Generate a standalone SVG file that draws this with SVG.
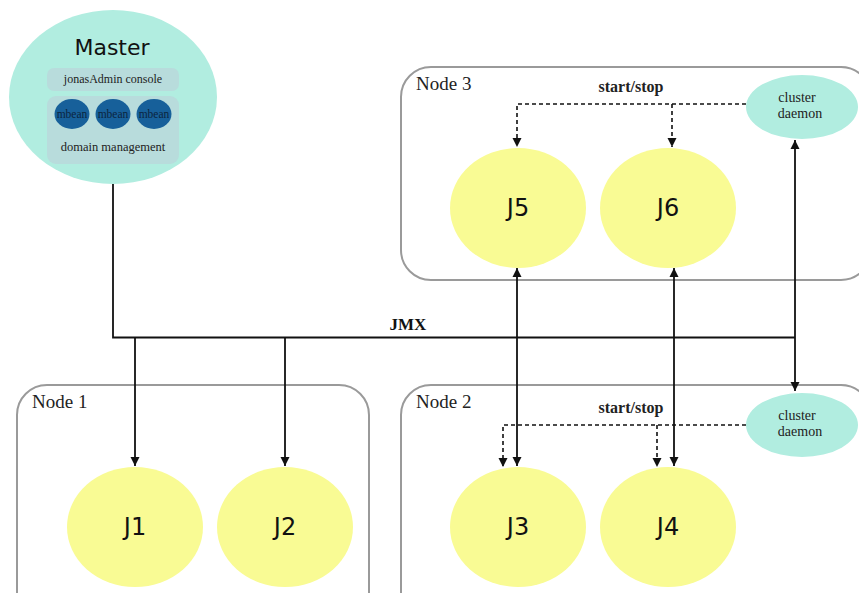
<svg xmlns="http://www.w3.org/2000/svg" width="859" height="593" viewBox="0 0 859 593">
<defs>
<style>
.box{fill:#fff;stroke:#9a9a9a;stroke-width:2}
.jvm{fill:#f9fb94}
.teal{fill:#b1ede0}
.inner{fill:#b8dcdc}
.mb{fill:#17609a}
.sans{font-family:"DejaVu Sans",sans-serif;fill:#111}
.serif{font-family:"Liberation Serif","DejaVu Serif",serif;fill:#222}
.ln{stroke:#111;stroke-width:1.8;fill:none}
.dash{stroke:#111;stroke-width:1.6;fill:none;stroke-dasharray:4 3}
</style>
<marker id="ah" viewBox="0 0 10 10" refX="10" refY="5" markerWidth="9" markerHeight="10" markerUnits="userSpaceOnUse" orient="auto">
<path d="M0,0 L10,5 L0,10 z" fill="#111"/>
</marker>
<marker id="ahs" viewBox="0 0 10 10" refX="10" refY="5" markerWidth="9" markerHeight="10" markerUnits="userSpaceOnUse" orient="auto-start-reverse">
<path d="M0,0 L10,5 L0,10 z" fill="#111"/>
</marker>
</defs>
<rect width="859" height="593" fill="#fff"/>

<g id="node1">
<rect class="box" x="17" y="385" width="352" height="240" rx="30"/>
<text class="serif" x="32" y="408" font-size="19">Node 1</text>
</g>
<g id="node2">
<rect class="box" x="401" y="385" width="470" height="240" rx="30"/>
<text class="serif" x="416" y="408" font-size="19">Node 2</text>
<text class="serif" x="631" y="413" font-size="16" font-weight="bold" text-anchor="middle">start/stop</text>
</g>
<g id="node3">
<rect class="box" x="401" y="67" width="470" height="213" rx="30"/>
<text class="serif" x="416" y="90" font-size="19">Node 3</text>
<text class="serif" x="631" y="92" font-size="16" font-weight="bold" text-anchor="middle">start/stop</text>
</g>

<g id="master">
<ellipse class="teal" cx="113" cy="97" rx="104" ry="87"/>
<text class="sans" x="112" y="55" font-size="22" text-anchor="middle">Master</text>
<rect class="inner" x="47" y="68" width="132" height="23" rx="7"/>
<text class="serif" x="113" y="83" font-size="12" text-anchor="middle">jonasAdmin console</text>
<rect class="inner" x="47" y="96" width="132" height="68" rx="9"/>
<ellipse class="mb" cx="72" cy="114" rx="17.5" ry="15"/>
<ellipse class="mb" cx="113" cy="114" rx="17.5" ry="15"/>
<ellipse class="mb" cx="154" cy="114" rx="17.5" ry="15"/>
<text class="serif" x="72" y="118" font-size="11.5" text-anchor="middle" style="fill:#0b2540">mbean</text>
<text class="serif" x="113" y="118" font-size="11.5" text-anchor="middle" style="fill:#0b2540">mbean</text>
<text class="serif" x="154" y="118" font-size="11.5" text-anchor="middle" style="fill:#0b2540">mbean</text>
<text class="serif" x="113" y="151" font-size="12.5" text-anchor="middle">domain management</text>
</g>

<g id="j1"><ellipse class="jvm" cx="135" cy="527" rx="68" ry="60"/><text class="sans" x="135" y="535" font-size="24" text-anchor="middle">J1</text></g>
<g id="j2"><ellipse class="jvm" cx="285" cy="527" rx="68" ry="60"/><text class="sans" x="285" y="535" font-size="24" text-anchor="middle">J2</text></g>
<g id="j3"><ellipse class="jvm" cx="518" cy="527" rx="68" ry="60"/><text class="sans" x="518" y="535" font-size="24" text-anchor="middle">J3</text></g>
<g id="j4"><ellipse class="jvm" cx="668" cy="527" rx="68" ry="60"/><text class="sans" x="668" y="535" font-size="24" text-anchor="middle">J4</text></g>
<g id="j5"><ellipse class="jvm" cx="518" cy="208" rx="68" ry="60"/><text class="sans" x="518" y="216" font-size="24" text-anchor="middle">J5</text></g>
<g id="j6"><ellipse class="jvm" cx="668" cy="208" rx="68" ry="60"/><text class="sans" x="668" y="216" font-size="24" text-anchor="middle">J6</text></g>

<g id="daemon3">
<ellipse class="teal" cx="802" cy="107" rx="56" ry="32"/>
<text class="serif" x="797" y="102" font-size="14" text-anchor="middle">cluster</text>
<text class="serif" x="800" y="118" font-size="14" text-anchor="middle">daemon</text>
</g>
<g id="daemon2">
<ellipse class="teal" cx="802" cy="425" rx="56" ry="32"/>
<text class="serif" x="797" y="420" font-size="14" text-anchor="middle">cluster</text>
<text class="serif" x="800" y="436" font-size="14" text-anchor="middle">daemon</text>
</g>

<g id="connectors">
<path class="ln" d="M113,184 V337.5 H795"/>
<text class="serif" x="408" y="330" font-size="17" font-weight="bold" text-anchor="middle" style="fill:#111">JMX</text>
<path class="ln" d="M135,337.5 V466" marker-end="url(#ah)"/>
<path class="ln" d="M285,337.5 V466" marker-end="url(#ah)"/>
<path class="ln" d="M517,268 V466" marker-start="url(#ahs)" marker-end="url(#ah)"/>
<path class="ln" d="M674,268 V466" marker-start="url(#ahs)" marker-end="url(#ah)"/>
<path class="ln" d="M795,140 V391" marker-start="url(#ahs)" marker-end="url(#ah)"/>
<path class="dash" d="M746,104 H517 V147" marker-end="url(#ah)"/>
<path class="dash" d="M672,104 V147" marker-end="url(#ah)"/>
<path class="dash" d="M746,425 H503 V467" marker-end="url(#ah)"/>
<path class="dash" d="M657,425 V467" marker-end="url(#ah)"/>
</g>
</svg>
